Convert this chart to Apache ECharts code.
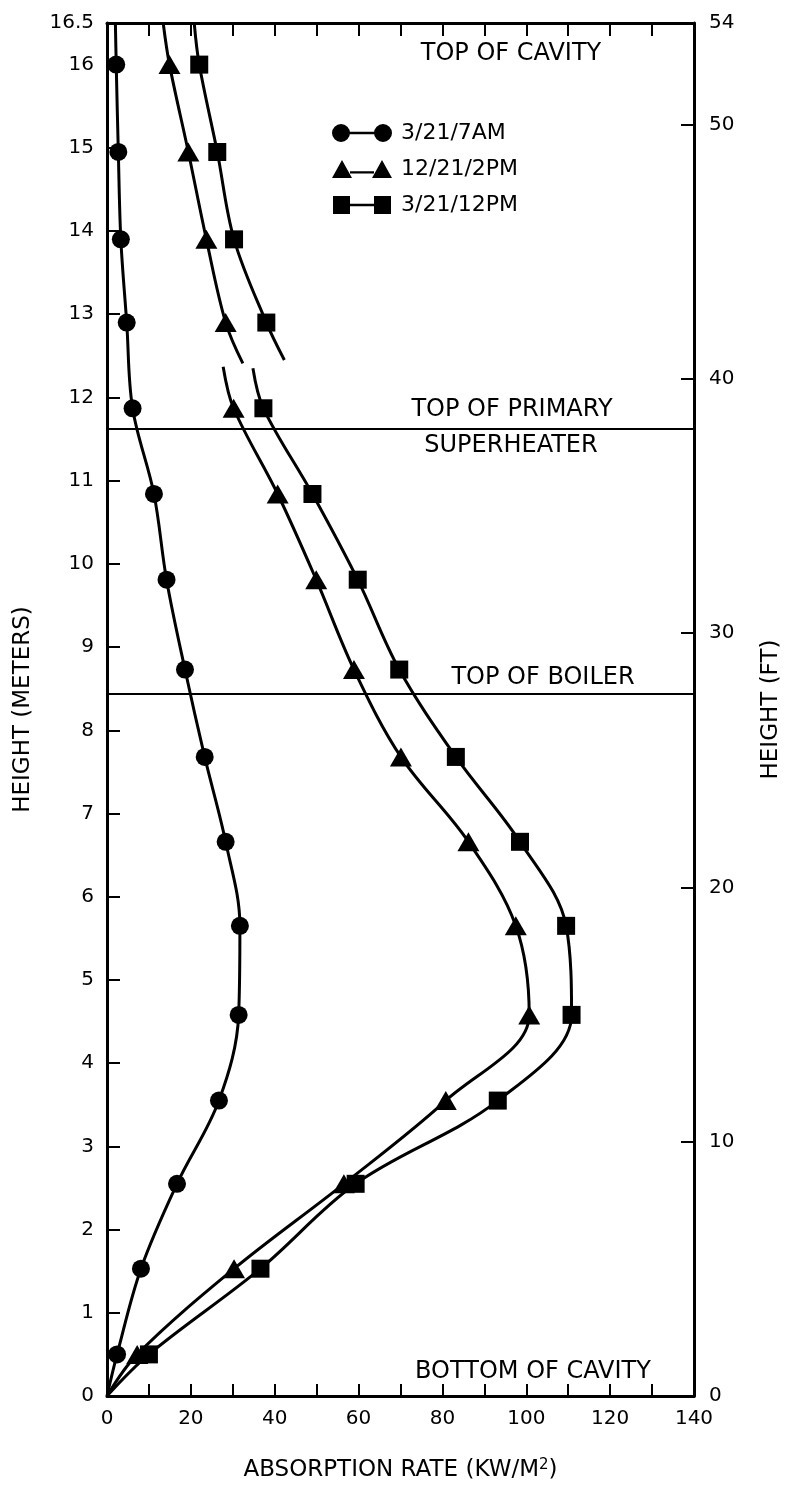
<!DOCTYPE html>
<html>
<head>
<meta charset="utf-8">
<title>Absorption rate vs height</title>
<script src="https://cdn.jsdelivr.net/npm/echarts@6/dist/echarts.min.js"></script>
<style>
  html, body { margin: 0; padding: 0; background: #fff; }
  #chart { width: 791px; height: 1489px; }
</style>
</head>
<body>
<div id="chart"></div>
<script>
// marker heights (m), shared by the three days
const heights = [16, 14.95, 13.9, 12.9, 11.87, 10.84, 9.81, 8.73, 7.68, 6.66, 5.65, 4.58, 3.55, 2.55, 1.53, 0.5];

// absorption rate (kW/m2) at each marker
const rateMar7am = [2.2, 2.7, 3.3, 4.7, 6.1, 11.2, 14.2, 18.6, 23.3, 28.3, 31.7, 31.4, 26.7, 16.7, 8.1, 2.4];
const rateDec2pm = [14.9, 19.4, 23.7, 28.3, 30.2, 40.7, 49.9, 58.9, 70.1, 86.2, 97.5, 100.7, 80.8, 56.5, 30.3, 7.2];
const rateMar12pm = [22.0, 26.3, 30.3, 38.0, 37.3, 49.0, 59.8, 69.7, 83.2, 98.5, 109.5, 110.8, 93.2, 59.3, 36.6, 10.0];

// where each faired curve leaves the top of the cavity (x at 16.5 m)
const topX = [2.0, 13.4, 20.8];

// the two afternoon curves are broken near 12.4 m: [upper end], [lower start] as [rate, height]
const breakDec2pm = [[32.4, 12.41], [27.7, 12.37]];
const breakMar12pm = [[42.3, 12.45], [34.8, 12.35]];

// horizontal reference levels (m): top of primary superheater, top of boiler
const levels = [11.62, 8.44];

const xTicks = { min: 0, max: 140, step: 10 };
const mTicks = { min: 0, max: 16.5, step: 1 };
const ftTicks = { min: 0, max: 54, step: 10 };

const FONT = '"DejaVu Sans", "Liberation Sans", Arial, sans-serif';

// build one curve: faired end points carry no marker
function curveData(xs, top, brk) {
  const pts = [{ value: [top, mTicks.max], symbol: 'none' }];
  heights.forEach((h, i) => {
    if (brk && i > 0 && heights[i - 1] > brk[0][1] && h < brk[0][1]) {
      pts.push({ value: brk[0], symbol: 'none' });
      pts.push(['-', '-']);
      pts.push({ value: brk[1], symbol: 'none' });
    }
    pts.push([xs[i], h]);
  });
  pts.push({ value: [0, 0], symbol: 'none' });
  return pts;
}

const ICONS = {
  circle: 'path://M0,9A9,9,0,1,1,18,9A9,9,0,1,1,0,9Z M42,9A9,9,0,1,1,60,9A9,9,0,1,1,42,9Z M16,7.8H44V10.2H16Z',
  triangle: 'path://M10,0L20,18H0Z M50,0L60,18H40Z M18,11.2H42V13.6H18Z',
  rect: 'path://M1,0H18V18H1Z M42,0H59V18H42Z M16,7.8H44V10.2H16Z'
};

const chart = echarts.init(document.getElementById('chart'));

const baseLine = {
  type: 'line',
  smooth: 0.35,
  connectNulls: false,
  animation: false,
  lineStyle: { color: '#000', width: 3 },
  itemStyle: { color: '#000' },
  emphasis: { disabled: true }
};

const axisCommon = {
  axisLine: { show: true, onZero: false, lineStyle: { color: '#000', width: 3 } },
  axisTick: { show: true, inside: true, length: 13, lineStyle: { color: '#000', width: 2 } },
  splitLine: { show: false },
  axisLabel: { color: '#000', fontFamily: FONT, fontSize: 20 }
};

chart.setOption({
  backgroundColor: '#fff',
  animation: false,
  grid: { left: 107, right: 95, top: 23, bottom: 93 },
  legend: {
    orient: 'vertical',
    left: 327,
    top: 117,
    itemWidth: 60,
    itemHeight: 18,
    itemGap: 14,
    selectedMode: false,
    textStyle: { color: '#000', fontFamily: FONT, fontSize: 22, padding: [0, 0, 0, 4] },
    data: [
      { name: '3/21/7AM', icon: ICONS.circle },
      { name: '12/21/2PM', icon: ICONS.triangle },
      { name: '3/21/12PM', icon: ICONS.rect }
    ]
  },
  xAxis: [
    Object.assign({}, axisCommon, {
      type: 'value', position: 'bottom',
      min: xTicks.min, max: xTicks.max, interval: xTicks.step,
      axisTick: { show: true, inside: true, length: 12, lineStyle: { color: '#000', width: 2 } },
      axisLabel: {
        color: '#000', fontFamily: FONT, fontSize: 20, margin: 13,
        formatter: v => (v % 20 === 0 ? String(v) : '')
      },
      name: 'ABSORPTION RATE (KW/M{sup|2})',
      nameLocation: 'middle',
      nameGap: 62,
      nameTextStyle: {
        color: '#000', fontFamily: FONT, fontSize: 23,
        rich: { sup: { fontFamily: FONT, fontSize: 15, verticalAlign: 'top', padding: [0, 0, 10, 0], color: '#000' } }
      }
    }),
    Object.assign({}, axisCommon, {
      type: 'value', position: 'top',
      min: xTicks.min, max: xTicks.max, interval: xTicks.step,
      axisLabel: { show: false }
    })
  ],
  yAxis: [
    Object.assign({}, axisCommon, {
      type: 'value', position: 'left',
      min: mTicks.min, max: mTicks.max, interval: mTicks.step,
      axisLabel: { color: '#000', fontFamily: FONT, fontSize: 20, margin: 13 },
      name: 'HEIGHT (METERS)',
      nameLocation: 'middle',
      nameRotate: 90,
      nameGap: 72,
      nameTextStyle: { color: '#000', fontFamily: FONT, fontSize: 23 }
    }),
    Object.assign({}, axisCommon, {
      type: 'value', position: 'right',
      min: ftTicks.min, max: ftTicks.max, interval: ftTicks.step,
      axisLabel: { color: '#000', fontFamily: FONT, fontSize: 20, margin: 15 },
      name: 'HEIGHT (FT)',
      nameLocation: 'middle',
      nameRotate: 90,
      nameGap: 66,
      nameTextStyle: { color: '#000', fontFamily: FONT, fontSize: 23 }
    })
  ],
  series: [
    Object.assign({}, baseLine, {
      name: '3/21/7AM',
      symbol: 'circle',
      symbolSize: 18,
      data: curveData(rateMar7am, topX[0], null),
      markLine: {
        silent: true,
        symbol: ['none', 'none'],
        label: { show: false },
        lineStyle: { color: '#000', width: 2, type: 'solid' },
        data: levels.map(v => ({ yAxis: v }))
      }
    }),
    Object.assign({}, baseLine, {
      name: '12/21/2PM',
      symbol: 'triangle',
      symbolSize: [22, 19],
      data: curveData(rateDec2pm, topX[1], breakDec2pm)
    }),
    Object.assign({}, baseLine, {
      name: '3/21/12PM',
      symbol: 'rect',
      symbolSize: 18,
      data: curveData(rateMar12pm, topX[2], breakMar12pm)
    })
  ],
  graphic: [
    ['TOP OF CAVITY', 511, 54],
    ['TOP OF PRIMARY', 512, 410],
    ['SUPERHEATER', 511, 446],
    ['TOP OF BOILER', 543, 678],
    ['BOTTOM OF CAVITY', 533, 1372]
  ].map(([t, x, y]) => ({
    type: 'text',
    x: x,
    y: y,
    silent: true,
    style: {
      text: t,
      fill: '#000',
      font: '24px ' + FONT,
      align: 'center',
      verticalAlign: 'middle',
      textAlign: 'center',
      textVerticalAlign: 'middle'
    }
  }))
});

window.addEventListener('resize', () => chart.resize());
</script>
</body>
</html>
